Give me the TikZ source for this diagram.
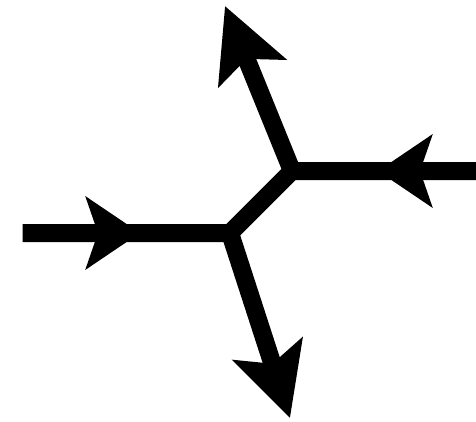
\documentclass[tikz,border=0pt]{standalone}
\usetikzlibrary{arrows.meta}
\begin{document}
\begin{tikzpicture}[x=1pt,y=-1pt,
  fline/.style={line width=18pt, line join=miter, line cap=butt},
  midtip/.style={fline,-{Stealth[length=54pt,width=72pt,inset=12pt]}},
  endtip/.style={fline,-{Stealth[length=72pt,width=72pt,inset=15pt]}}]
\useasboundingbox (0,0) rectangle (476,421);
\coordinate (in) at (22.5,233);
\coordinate (A) at (230,233);
\coordinate (B) at (292,171);
\coordinate (out) at (480,171);
\coordinate (Ltip) at (140,233);
\coordinate (Rtip) at (378,171);
\coordinate (top) at (225,6);
\coordinate (bot) at (290,418);
\draw[fline] (in) -- (A) -- (B) -- (out);
\draw[midtip] (in) -- (Ltip);
\draw[midtip] (out) -- (Rtip);
\draw[endtip] (B) -- (top);
\draw[endtip] (A) -- (bot);
\end{tikzpicture}
\end{document}
